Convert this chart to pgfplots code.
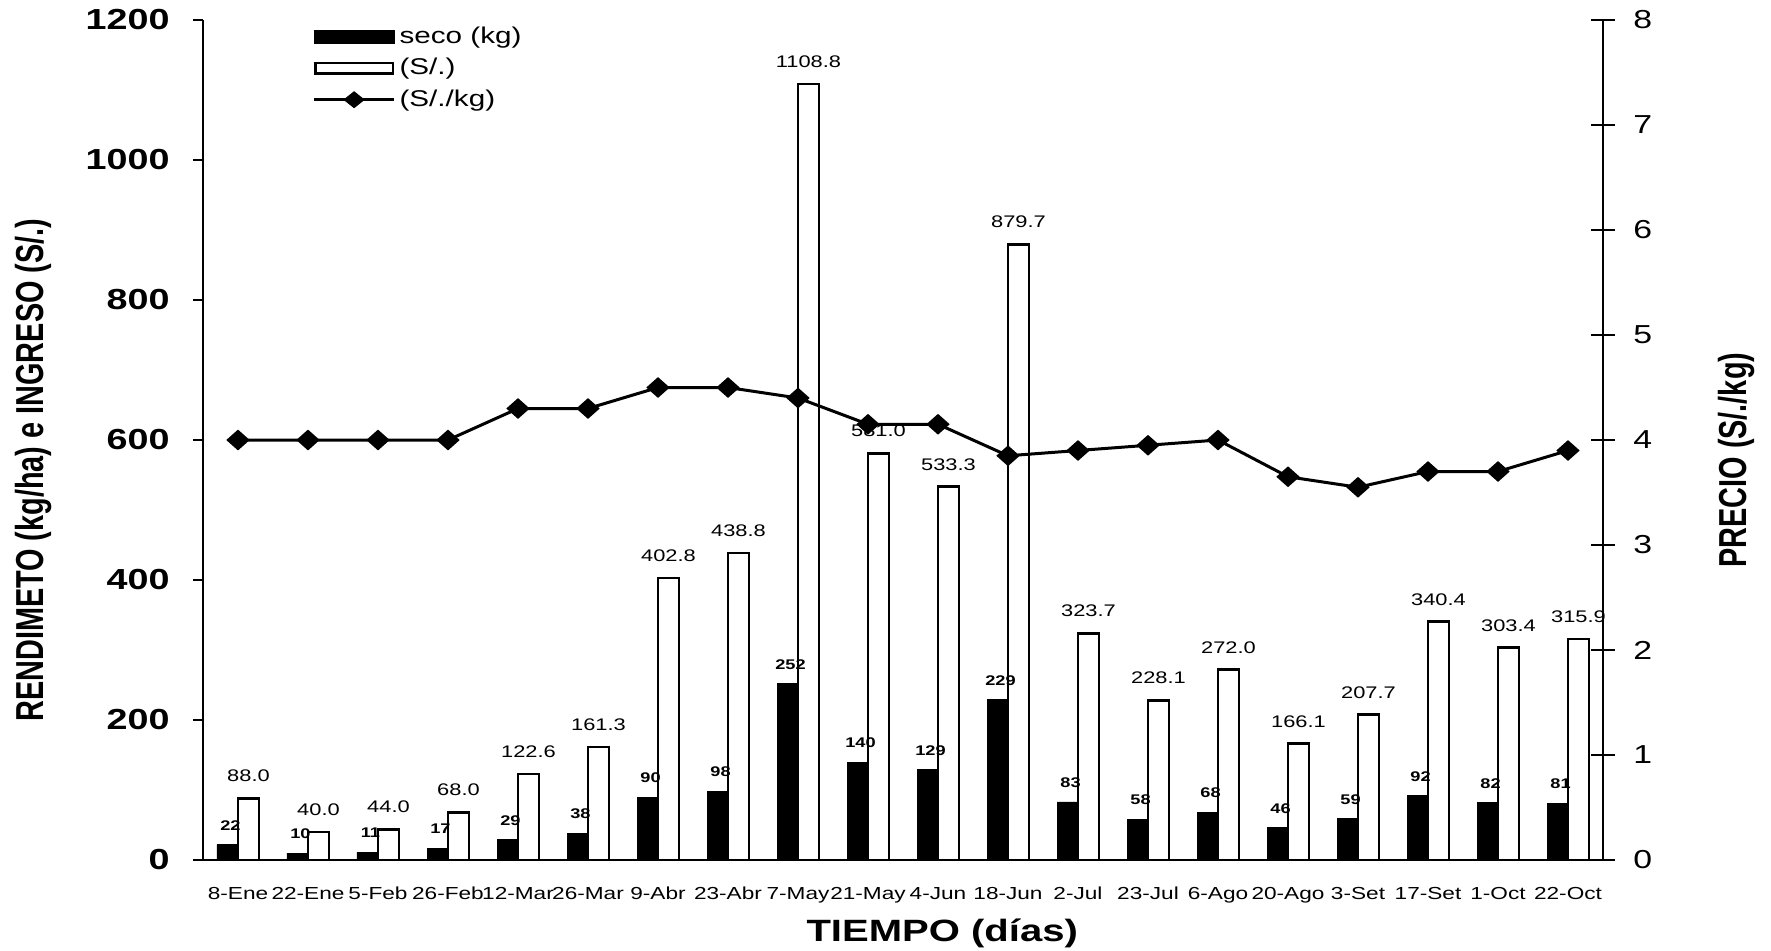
\documentclass[border=0pt]{standalone}
\usepackage{fontspec}
\setmainfont{Liberation Sans}[FakeStretch=1.3]
\newfontfamily\vertfont{Liberation Sans}[FakeStretch=0.74]
\usepackage{pgfplots}
\usepackage{pgfplotstable}
\pgfplotsset{compat=1.18}

\pgfplotsset{
  /pgf/number format/assume math mode=true,
  /pgf/number format/1000 sep={},
  widelineleg/.style={legend image code/.code={%
    \draw[line width=1.5pt, black] (0pt,0pt) -- (40pt,0pt);
    \fill[black] (15pt,0pt) -- (20pt,4pt) -- (25pt,0pt) -- (20pt,-4pt) -- cycle;}},
  blackbarleg/.style={legend image code/.code={%
    \fill[black] (0pt,-3.25pt) rectangle (40pt,3.25pt);}},
  whitebarleg/.style={legend image code/.code={%
    \draw[fill=white,draw=black,line width=1.3pt] (0.65pt,-2.6pt) rectangle (39.35pt,2.6pt);}},
}

% fecha: indice de la fecha, seco: rendimiento seco (kg/ha),
% ingreso: ingreso (S/.), precio: precio (S/./kg)
\pgfplotstableread{
fecha seco ingreso precio
0  22  88.0  4.00
1  10  40.0  4.00
2  11  44.0  4.00
3  17  68.0  4.00
4  29  122.6 4.30
5  38  161.3 4.30
6  90  402.8 4.50
7  98  438.8 4.50
8  252 1108.8 4.40
9  140 581.0 4.15
10 129 533.3 4.15
11 229 879.7 3.85
12 83  323.7 3.90
13 58  228.1 3.95
14 68  272.0 4.00
15 46  166.1 3.65
16 59  207.7 3.55
17 92  340.4 3.70
18 82  303.4 3.70
19 81  315.9 3.90
}\datos

\begin{document}
\begin{tikzpicture}
\begin{axis}[
  name=ax,
  width=700pt, height=420pt, scale only axis,
  xmin=-0.5, xmax=19.5, ymin=0, ymax=1200,
  axis x line*=bottom, axis y line*=left,
  axis line style={line width=1.2pt},
  tick style={line width=1.2pt, black},
  tick align=outside,
  major tick length=5pt,
  minor tick length=4pt,
  ytick={0,200,...,1200},
  xtick={0,...,19},
  xtick style={draw=none},
  minor xtick={-0.5,0.5,...,19.5},
  xticklabels={8-Ene,22-Ene,5-Feb,26-Feb,12-Mar,26-Mar,9-Abr,23-Abr,7-May,21-May,4-Jun,18-Jun,2-Jul,23-Jul,6-Ago,20-Ago,3-Set,17-Set,1-Oct,22-Oct},
  xticklabel style={font=\fontsize{8.7}{9}\selectfont, anchor=base, inner sep=0pt, yshift=-14.5pt},
  yticklabel style={font=\fontsize{14.5}{15}\selectfont\bfseries, anchor=east, inner sep=0pt, xshift=-11.5pt},
  xlabel={\textbf{TIEMPO (días)}},
  xlabel style={font=\fontsize{15.4}{16}\selectfont, at={(axis description cs:0.528,-0.0875)}, anchor=center},
  ylabel={\textbf{RENDIMETO (kg/ha) e INGRESO (S/.)}},
  ylabel style={font=\vertfont\fontsize{19.5}{20}\selectfont, at={(axis description cs:-0.1214,0.464)}, anchor=center},
  ybar=0pt, bar width=10.5pt,
  legend style={at={(axis description cs:0.078,0.997)}, anchor=north west, draw=none, fill=none,
    font=\fontsize{11.4}{12}\selectfont, inner sep=0pt, row sep=2pt,
    /tikz/every even column/.append style={column sep=1pt}},
  legend cell align=left,
]
\addplot[fill=black, draw=black, line width=0.4pt, blackbarleg,
  nodes near coords,
  every node near coord/.append style={font=\fontsize{7}{7}\selectfont\bfseries, inner sep=0pt, anchor=south, yshift=7pt, xshift=1.5pt}]
  table[x=fecha, y=seco] {\datos};
\addlegendentry{seco (kg)}
\addplot[fill=white, draw=black, line width=1.3pt, whitebarleg,
  nodes near coords={\pgfmathprintnumber[fixed, fixed zerofill, precision=1]{\pgfplotspointmeta}},
  every node near coord/.append style={font=\fontsize{8.4}{9}\selectfont, inner sep=0pt, anchor=south, yshift=7.5pt}]
  table[x=fecha, y=ingreso] {\datos};
\addlegendentry{(S/.)}
\addlegendimage{widelineleg}
\addlegendentry{(S/./kg)}
\end{axis}

\begin{axis}[
  width=700pt, height=420pt, scale only axis,
  xmin=-0.5, xmax=19.5, ymin=0, ymax=8,
  axis x line=none, axis y line*=right,
  axis line style={line width=1.2pt},
  tick style={line width=1.2pt, black},
  tick align=center, major tick length=12pt,
  ytick={0,...,8},
  yticklabel style={font=\fontsize{13}{13}\selectfont, anchor=west, inner sep=0pt, xshift=9pt},
  ylabel={\textbf{PRECIO (S/./kg)}},
  ylabel style={font=\vertfont\fontsize{19.5}{20}\selectfont, at={(axis description cs:1.095,0.476)}, anchor=center, rotate=0},
]
\addplot[black, line width=1.5pt, mark=diamond*, mark size=4.2pt, mark options={xscale=1.5, solid}]
  table[x=fecha, y=precio] {\datos};
\end{axis}

\pgfresetboundingbox
\path[use as bounding box] ([shift={(-101.5pt,-45pt)}]ax.south west) rectangle ([shift={(84pt,10pt)}]ax.north east);
\end{tikzpicture}
\end{document}
